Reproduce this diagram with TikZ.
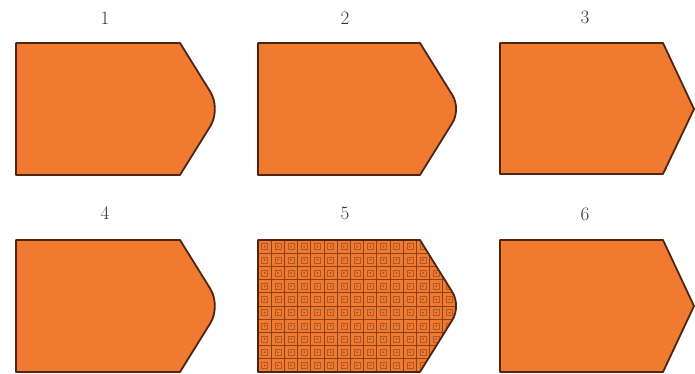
\documentclass[tikz,border=0pt]{standalone}
\begin{document}
\begin{tikzpicture}[x=1pt,y=-1pt,
  every node/.style={inner sep=0pt},
  lbl/.style={font=\fontsize{19}{22}\selectfont, text=black!80},
  plate/.style={fill=plateorange, draw=platebrown, line width=1.8pt, line join=round},
  cellgrid/.style={draw=platebrown!65!plateorange, line width=0.9pt},
  cellmark/.style={draw=platebrown!40!plateorange, line width=0.6pt}]
\definecolor{plateorange}{RGB}{240,122,48}
\definecolor{platebrown}{RGB}{80,36,16}
\useasboundingbox (0,0) rectangle (695,374);
% labels
\node[lbl] (l1) at (105,18) {1};
\node[lbl] (l2) at (345,18) {2};
\node[lbl] (l3) at (585,17) {3};
\node[lbl] (l4) at (105,213) {4};
\node[lbl] (l5) at (345,213) {5};
\node[lbl] (l6) at (585,214) {6};
% row 1
\draw[plate] (16,43) -- (180,43) [rounded corners=20pt] -- (221,109) [sharp corners] -- (180,175) -- (16,175) -- cycle;
\draw[plate] (258,43) -- (420,43) [rounded corners=16pt] -- (461,109) [sharp corners] -- (420,175) -- (258,175) -- cycle;
\draw[plate] (500,43) -- (663,43) -- (694,109) -- (663,174) -- (500,174) -- cycle;
% row 2
\draw[plate] (16,240) -- (180,240) [rounded corners=20pt] -- (221,306) [sharp corners] -- (180,372) -- (16,372) -- cycle;
\begin{scope}
\clip (258,240) -- (420,240) [rounded corners=16pt] -- (461,306) [sharp corners] -- (420,372) -- (258,372) -- cycle;
\fill[plateorange] (250,235) rectangle (465,380);
\foreach \i in {0,...,14} {
  \foreach \j in {0,...,9} {
    \draw[cellmark] ({258+13.2*\i+3.6},{240+13.2*\j+3.6}) rectangle ++(6,6);
    \fill[platebrown!50!plateorange] ({258+13.2*\i+6.6},{240+13.2*\j+6.6}) circle (1pt);
  }
}
\foreach \i in {1,...,15} \draw[cellgrid] ({258+13.2*\i},235) -- ({258+13.2*\i},380);
\foreach \j in {1,...,10} \draw[cellgrid] (250,{240+13.2*\j}) -- (465,{240+13.2*\j});
\end{scope}
\draw[platebrown, line width=1.8pt, line join=round] (258,240) -- (420,240) [rounded corners=16pt] -- (461,306) [sharp corners] -- (420,372) -- (258,372) -- cycle;
\draw[plate] (500,240) -- (663,240) -- (694,306) -- (663,372) -- (500,372) -- cycle;
\end{tikzpicture}
\end{document}
